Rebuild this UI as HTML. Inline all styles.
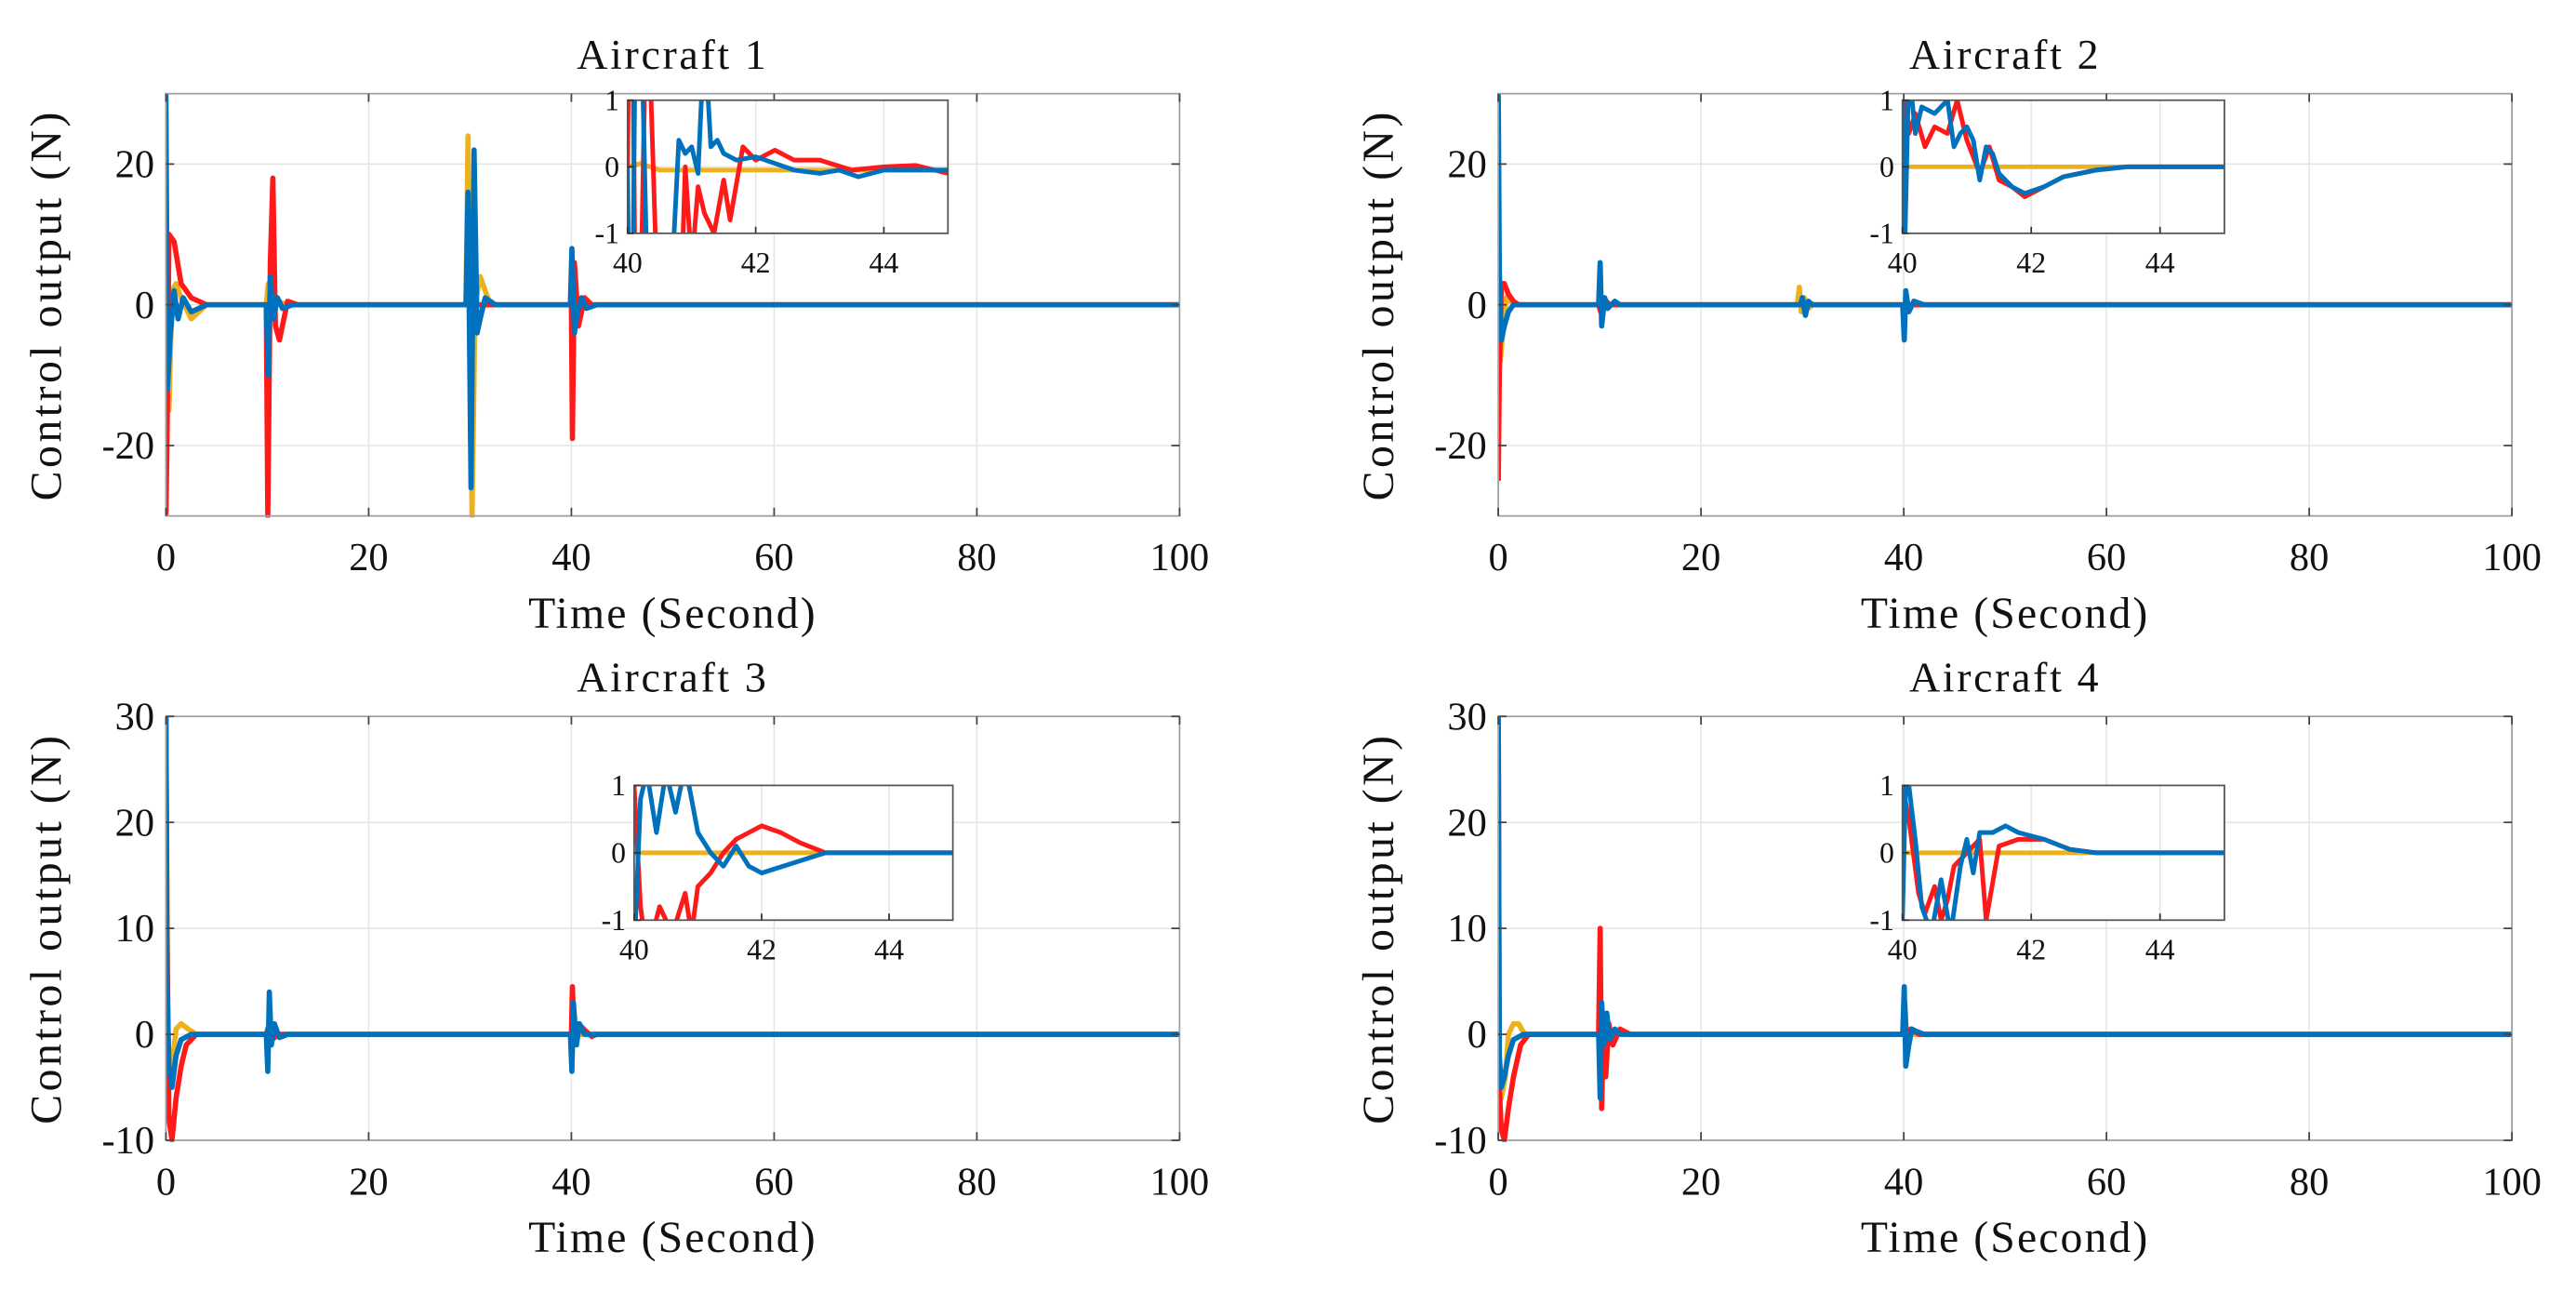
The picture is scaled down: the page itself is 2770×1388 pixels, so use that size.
<!DOCTYPE html>
<html><head><meta charset="utf-8"><style>
html,body{margin:0;padding:0;background:#fff;}
svg{display:block;}
text{font-family:"Liberation Serif",serif;fill:#111;}
</style></head><body>
<svg id="fig" width="2770" height="1388" viewBox="0 0 1568 785.7" preserveAspectRatio="none" xmlns="http://www.w3.org/2000/svg"></svg>
<script>
// ---- data ----
const titles = ["Aircraft 1","Aircraft 2","Aircraft 3","Aircraft 4"];
const xTicks = [0,20,40,60,80,100];
const yTicks12 = [-20,0,20];
const yTicks34 = [-10,0,10,20,30];
const insetXTicks = [40,42,44];
const insetYTicks = [-1,0,1];
// Aircraft 1
const a1RedT=[0,0.1,0.3,0.8,1.5,2.5,4,9.9,10.05,10.3,10.55,10.8,11.2,12,13,40,40.1,40.3,40.7,41.3,42,100];
const a1RedV=[-30,-20,10,9,3,1,0,0,-30,6,18,-3,-5,0.5,0,0,-19,6,-3,1,0,0];
const a1YelT=[0,0.3,0.6,1,1.5,2.5,4,5,9.9,10.1,10.4,11,12,29.6,29.8,30.2,30.5,31,31.5,32,33,39.9,40.1,40.4,41,100];
const a1YelV=[0,-15,2,3,1,-2,0,0,0,3,-2,0.5,0,0,24,-30,0,4,2,0,0,0,3,-1,0,0];
const a1BluT=[0,0.15,0.4,0.8,1.2,1.7,2.5,4,9.9,10.1,10.3,10.6,11,11.5,12.5,29.6,29.8,30.1,30.4,30.7,31,31.5,32.5,39.9,40.05,40.3,40.6,41,41.5,42.5,100];
const a1BluV=[30,-12,-5,2,-2,1,-1,0,0,-10,4,-2,1,-0.5,0,0,16,-26,22,-4,-2,1,0,0,8,-4,-1,1,-0.5,0,0];
const i1RedT=[40,40.05,40.15,40.3,40.5,40.8,40.9,41,41.1,41.2,41.35,41.5,41.6,41.8,42,42.3,42.6,43,43.5,44,44.5,45];
const i1RedV=[0,5,-5,3,-3,-3,0,-1.5,-0.3,-0.7,-1,-0.2,-0.8,0.3,0.1,0.25,0.1,0.1,-0.05,0,0.02,-0.1];
const i1BluT=[40,40.05,40.15,40.3,40.7,40.8,40.9,41,41.1,41.2,41.3,41.4,41.5,41.7,42,42.3,42.6,43,43.3,43.6,44,44.5,45];
const i1BluV=[0,-5,5,-1.5,-1.5,0.4,0.2,0.3,-0.1,2,0.3,0.4,0.2,0.1,0.15,0.05,-0.05,-0.1,-0.05,-0.15,-0.05,-0.05,-0.05];
const i1YelT=[40,40.2,40.5,41,45];
const i1YelV=[0,0.05,-0.05,-0.05,-0.05];
// Aircraft 2
const a2RedT=[0,0.1,0.3,0.6,1,1.5,2,3,9.9,10.1,10.3,11,40,100];
const a2RedV=[-25,-10,3,3,1.5,0.5,0,0,0,-1,1,0,0,0];
const a2YelT=[0,0.2,0.5,0.8,1.2,2,3,29.5,29.7,29.9,30.2,30.6,31,40,100];
const a2YelV=[0,-8,-3,1,0.5,0,0,0,2.5,-1,1,-0.5,0,0,0];
const a2BluT=[0,0.1,0.3,0.6,1,1.5,2.5,9.9,10.05,10.2,10.5,10.8,11.5,12,29.8,30,30.3,30.6,31,39.9,40.05,40.2,40.5,41,42,100];
const a2BluV=[30,5,-5,-3,-1,0,0,0,6,-3,1,-0.5,0.5,0,0,1,-1.5,0.5,0,0,-5,2,-1,0.5,0,0];
const i2RedT=[40,40.1,40.2,40.35,40.5,40.7,40.85,41,41.2,41.35,41.5,41.7,41.9,42.2,42.5,43,43.5,44,45];
const i2RedV=[1.5,0.5,0.8,0.3,0.6,0.5,1.0,0.4,-0.1,0.3,-0.2,-0.3,-0.45,-0.3,-0.15,-0.05,0,0,0];
const i2BluT=[40,40.03,40.1,40.2,40.3,40.5,40.7,40.8,40.9,41,41.1,41.2,41.3,41.4,41.5,41.7,41.9,42.2,42.5,43,43.5,44,45];
const i2BluV=[1.5,-1.5,1.5,0.5,0.9,0.8,1.0,0.3,0.5,0.6,0.4,-0.2,0.3,0.2,-0.1,-0.3,-0.4,-0.3,-0.15,-0.05,0,0,0];
const i2YelT=[40,45];
const i2YelV=[0,0];
// Aircraft 3
const a3RedT=[0,0.1,0.3,0.6,1,1.5,2,3,4,9.9,10.2,10.5,11,40,40.1,40.3,40.7,41.2,42,42.5,100];
const a3RedV=[30,10,-8,-10,-6,-3,-1,0,0,0,1,-0.5,0,0,4.5,-1,1,0.5,-0.2,0,0];
const a3YelT=[0,0.2,0.6,1,1.5,2.2,3,4,10,40,100];
const a3YelV=[30,-2,-3,0.5,1,0.5,0,0,0,0,0];
const a3BluT=[0,0.1,0.3,0.6,1,1.5,2.5,4,9.9,10.05,10.2,10.4,10.7,11.2,12,39.9,40.05,40.2,40.5,40.8,41.3,42,100];
const a3BluV=[30,5,-3,-5,-2,-0.5,0,0,0,-3.5,4,-1,1,-0.3,0,0,-3.5,3,-1,1,0,0,0];
const i3RedT=[40,40.1,40.2,40.4,40.6,40.8,40.9,41,41.2,41.4,41.6,41.8,42,42.3,42.6,43,43.5,45];
const i3RedV=[1,-0.8,-1.5,-0.8,-1.2,-0.6,-1.2,-0.5,-0.3,0,0.2,0.3,0.4,0.3,0.15,0,0,0];
const i3BluT=[40,40.1,40.2,40.35,40.5,40.65,40.8,41,41.2,41.4,41.6,41.8,42,42.5,43,45];
const i3BluV=[-1.5,0.8,1.2,0.3,1.2,0.6,1.3,0.3,0,-0.2,0.1,-0.2,-0.3,-0.15,0,0];
const i3YelT=[40,45];
const i3YelV=[0,0];
// Aircraft 4
const a4RedT=[0,0.1,0.3,0.6,1,1.5,2.2,3,4,9.9,10.05,10.2,10.4,10.6,10.9,11.3,12,13,40,40.1,40.3,40.7,41.5,100];
const a4RedV=[30,-5,-9,-10,-7,-4,-1,0,0,0,10,-7,2,-4,1,-1,0.5,0,0,3,-1,0.5,0,0];
const a4YelT=[0,0.3,0.7,1,1.5,2,2.6,3.5,100];
const a4YelV=[0,-6,-4,0,1,1,0,0,0];
const a4BluT=[0,0.1,0.3,0.6,1,1.5,2.5,4,9.9,10.05,10.2,10.4,10.7,11,11.5,12,39.9,40.05,40.2,40.5,40.8,41.2,42,100];
const a4BluV=[30,-2,-5,-4,-2,-0.5,0,0,0,-6,3,-1,2,-0.5,0.5,0,0,4.5,-3,-1,0.5,0.3,0,0];
const i4RedT=[40,40.1,40.25,40.35,40.5,40.6,40.7,40.8,41,41.2,41.3,41.5,41.8,42.2,42.6,43,45];
const i4RedV=[1,0.5,-0.6,-0.9,-0.5,-1.0,-0.7,-0.2,0,0.2,-1.0,0.1,0.2,0.2,0.05,0,0];
const i4BluT=[40,40.05,40.1,40.2,40.3,40.45,40.6,40.75,40.9,41,41.1,41.2,41.4,41.6,41.8,42.2,42.6,43,45];
const i4BluV=[-1,1,1,0.2,-0.8,-1.2,-0.4,-1.2,-0.2,0.2,-0.3,0.3,0.3,0.4,0.3,0.2,0.05,0,0];
const i4YelT=[40,45];
const i4YelV=[0,0];

const COL={red:"#ff1a1a",yel:"#edb120",blu:"#0072bd"};
const NS="http://www.w3.org/2000/svg";
const svg=document.getElementById('fig');
function mk(tag,attrs,parent){const e=document.createElementNS(NS,tag);for(const k in attrs)e.setAttribute(k,attrs[k]);(parent||svg).appendChild(e);return e;}

const panels=[
 {title:titles[0],L:101,R:718,T:57,B:314,ymin:-30,ymax:30,yt:yTicks12,titleY:42,tickY:347,labY:382,
  series:[[a1YelT,a1YelV,'yel'],[a1RedT,a1RedV,'red'],[a1BluT,a1BluV,'blu']],
  inset:{L:382,R:577,T:61,B:142,s:[[i1YelT,i1YelV,'yel'],[i1RedT,i1RedV,'red'],[i1BluT,i1BluV,'blu']]}},
 {title:titles[1],L:912,R:1529,T:57,B:314,ymin:-30,ymax:30,yt:yTicks12,titleY:42,tickY:347,labY:382,
  series:[[a2YelT,a2YelV,'yel'],[a2RedT,a2RedV,'red'],[a2BluT,a2BluV,'blu']],
  inset:{L:1158,R:1354,T:61,B:142,s:[[i2YelT,i2YelV,'yel'],[i2RedT,i2RedV,'red'],[i2BluT,i2BluV,'blu']]}},
 {title:titles[2],L:101,R:718,T:436,B:694,ymin:-10,ymax:30,yt:yTicks34,titleY:421,tickY:727,labY:762,
  series:[[a3YelT,a3YelV,'yel'],[a3RedT,a3RedV,'red'],[a3BluT,a3BluV,'blu']],
  inset:{L:386,R:580,T:478,B:560,s:[[i3YelT,i3YelV,'yel'],[i3RedT,i3RedV,'red'],[i3BluT,i3BluV,'blu']]}},
 {title:titles[3],L:912,R:1529,T:436,B:694,ymin:-10,ymax:30,yt:yTicks34,titleY:421,tickY:727,labY:762,
  series:[[a4YelT,a4YelV,'yel'],[a4RedT,a4RedV,'red'],[a4BluT,a4BluV,'blu']],
  inset:{L:1158,R:1354,T:478,B:560,s:[[i4YelT,i4YelV,'yel'],[i4RedT,i4RedV,'red'],[i4BluT,i4BluV,'blu']]}}
];

panels.forEach((p,pi)=>{
  const g=mk('g',{});
  
  
  const xs=t=>p.L+(t-0)/(100-0)*(p.R-p.L);
  const ys=v=>p.B-(v-p.ymin)/(p.ymax-p.ymin)*(p.B-p.T);
  xTicks.forEach(t=>{const l=mk('line',{x1:xs(t),x2:xs(t),y1:p.T,y2:p.B,stroke:'#e3e3e3','stroke-width':0.8},g);
    });
  p.yt.forEach(v=>{const l=mk('line',{x1:p.L,x2:p.R,y1:ys(v),y2:ys(v),stroke:'#e3e3e3','stroke-width':0.8},g);
    });
  const cid='clip'+pi;
  const cp=mk('clipPath',{id:cid},g);mk('rect',{x:p.L,y:p.T-1,width:p.R-p.L,height:p.B-p.T+2},cp);
  p.series.forEach(s=>{
    const d=s[0].map((t,i)=>(i?'L':'M')+xs(t).toFixed(2)+','+ys(s[1][i]).toFixed(2)).join('');
    const e=mk('path',{d:d,fill:'none',stroke:COL[s[2]],'stroke-width':3.2,'stroke-linejoin':'round','clip-path':'url(#'+cid+')'},g);
    
    
  });
  const bx=mk('rect',{x:p.L,y:p.T,width:p.R-p.L,height:p.B-p.T,fill:'none',stroke:'#a0a0a0','stroke-width':1},g);
  
  xTicks.forEach(t=>{
    mk('line',{x1:xs(t),x2:xs(t),y1:p.B,y2:p.B-5,stroke:'#444','stroke-width':1},g);
    mk('line',{x1:xs(t),x2:xs(t),y1:p.T,y2:p.T+5,stroke:'#444','stroke-width':1},g);
    const tx=mk('text',{x:xs(t),y:p.tickY,'text-anchor':'middle','font-size':24},g);tx.textContent=t;
    
  });
  p.yt.forEach(v=>{
    mk('line',{x1:p.L,x2:p.L+5,y1:ys(v),y2:ys(v),stroke:'#444','stroke-width':1},g);
    mk('line',{x1:p.R,x2:p.R-5,y1:ys(v),y2:ys(v),stroke:'#444','stroke-width':1},g);
    const tx=mk('text',{x:p.L-7,y:ys(v)+8,'text-anchor':'end','font-size':24},g);tx.textContent=v;
    
  });
  const ti=mk('text',{x:(p.L+p.R)/2,y:p.titleY,'text-anchor':'middle','font-size':26,'letter-spacing':1.5},g);ti.textContent=p.title;
  
  const xl=mk('text',{x:(p.L+p.R)/2,y:p.labY,'text-anchor':'middle','font-size':27,'letter-spacing':1.2},g);xl.textContent='Time (Second)';
  
  const cy=(p.T+p.B)/2, cx=p.L-64;
  const yl=mk('text',{x:cx,y:cy,'text-anchor':'middle','font-size':27,'letter-spacing':2,transform:'rotate(-90 '+cx+' '+cy+')'},g);yl.textContent='Control output (N)';
  
  const q=p.inset;
  const ig=mk('g',{},g);
  
  
  const ixs=t=>q.L+(t-40)/(45-40)*(q.R-q.L);
  const iys=v=>q.B-(v+1)/2*(q.B-q.T);
  mk('rect',{x:q.L,y:q.T,width:q.R-q.L,height:q.B-q.T,fill:'#fff'},ig);
  insetXTicks.forEach(t=>mk('line',{x1:ixs(t),x2:ixs(t),y1:q.T,y2:q.B,stroke:'#e3e3e3','stroke-width':0.8},ig));
  insetYTicks.forEach(v=>mk('line',{x1:q.L,x2:q.R,y1:iys(v),y2:iys(v),stroke:'#e3e3e3','stroke-width':0.8},ig));
  const icid='iclip'+pi;
  const icp=mk('clipPath',{id:icid},ig);mk('rect',{x:q.L,y:q.T,width:q.R-q.L,height:q.B-q.T},icp);
  q.s.forEach(s=>{
    const d=s[0].map((t,i)=>(i?'L':'M')+ixs(t).toFixed(2)+','+iys(s[1][i]).toFixed(2)).join('');
    const e=mk('path',{d:d,fill:'none',stroke:COL[s[2]],'stroke-width':2.8,'stroke-linejoin':'round','clip-path':'url(#'+icid+')'},ig);
    
    
  });
  mk('rect',{x:q.L,y:q.T,width:q.R-q.L,height:q.B-q.T,fill:'none',stroke:'#555','stroke-width':1},ig);
  insetXTicks.forEach(t=>{
    mk('line',{x1:ixs(t),x2:ixs(t),y1:q.B,y2:q.B-4,stroke:'#333','stroke-width':1},ig);
    const tx=mk('text',{x:ixs(t),y:q.B+24,'text-anchor':'middle','font-size':18},ig);tx.textContent=t;
    
  });
  insetYTicks.forEach(v=>{
    mk('line',{x1:q.L,x2:q.L+4,y1:iys(v),y2:iys(v),stroke:'#333','stroke-width':1},ig);
    const tx=mk('text',{x:q.L-5,y:iys(v)+6,'text-anchor':'end','font-size':18},ig);tx.textContent=v;
    
  });
});
</script>
</body></html>
